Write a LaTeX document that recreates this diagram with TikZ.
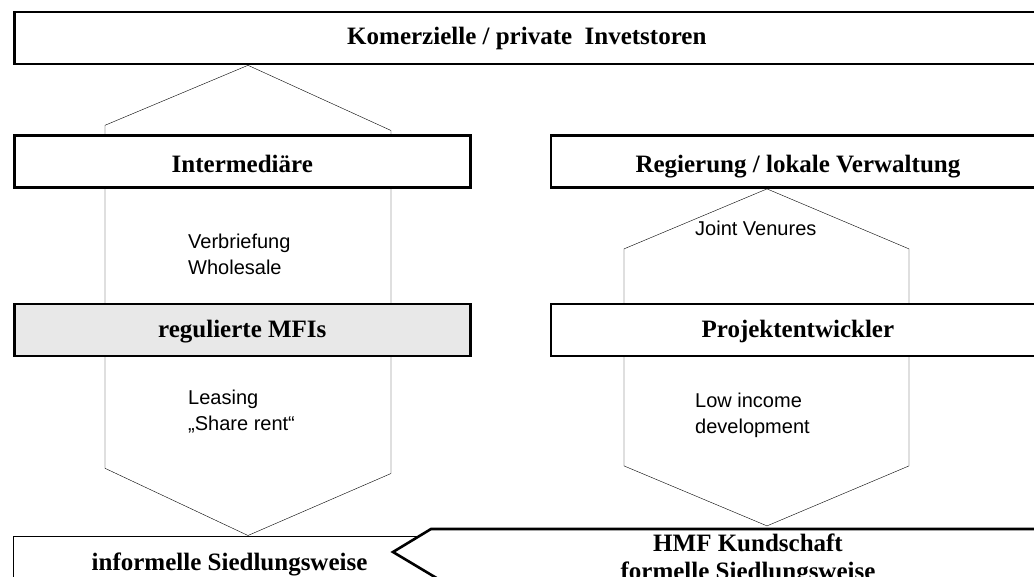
\documentclass[tikz,border=0pt]{standalone}
\usepackage{fontspec}
\setmainfont{Liberation Serif}
\newfontfamily\notefont{Liberation Sans}
\usetikzlibrary{positioning,backgrounds}

\begin{document}
\begin{tikzpicture}[x=1pt, y=-1pt,
				frame/.style={draw=black, line width=2.6pt, fill=white},
				bartext/.style={inner sep=0pt, font=\fontsize{25}{28}\selectfont\bfseries},
				bar/.style={frame, bartext, rectangle, minimum height=52pt, text height=17pt, text depth=3pt},
				tallrow/.style={text height=22pt, text depth=0pt},
				greybar/.style={bar, fill=black!9},
				flatbar/.style={bar, line width=1.1pt, text depth=7pt},
				note/.style={align=left, inner sep=0pt, font=\notefont\fontsize{20}{26}\selectfont},
				hexline/.style={draw=black, line width=0.9pt}
			]
			\useasboundingbox (0,0) rectangle (1034,577);
			\node[bar, anchor=west, minimum width=1025pt] (investoren) at (13,38) {Komerzielle / private\ \ Invetstoren};
			\node[bar, tallrow, minimum width=456pt] (intermed) [below right=69pt and 0pt of investoren.south west] {Intermediäre};
			\node[greybar, minimum width=456pt] (mfis) [below=114pt of intermed] {regulierte MFIs};
			\node[bar, tallrow, minimum width=494pt] (regierung) [right=78pt of intermed] {Regierung / lokale Verwaltung};
			\node[bar, minimum width=494pt] (projekt) [right=78pt of mfis] {Projektentwickler};
			\node[flatbar, minimum width=432pt, minimum height=58pt] (informell) [below right=178pt and 0pt of mfis.south west] {informelle Siedlungsweise};
			\coordinate (tip) at (393,552);
			\draw[frame] (tip) -- ++(38,-23) -- ++(620,0) -- ++(0,81) -- ++(-561,0) -- cycle;
			\node[bartext, align=center] (hmf) at (748,559) {HMF Kundschaft\\formelle Siedlungsweise};
			\node[note, anchor=base west] (verbriefung) at (188,275) {Verbriefung\\Wholesale};
			\node[note, anchor=base west] (leasing) at (188,430) {Leasing\\„Share rent“};
			\node[note, anchor=base west] (joint) at (695,236) {Joint Venures};
			\node[note, anchor=base west] (lowincome) at (695,433) {Low income\\development};
			\begin{scope}[on background layer, hexline]
			\coordinate (lhex) at (248,0);
			\coordinate (rhex) at (767,0);
			\draw (lhex |- investoren.south) -- ++(-143,60) -- ++(0,343) -- (lhex |- informell.north) -- ++(143,-62) -- ++(0,-343) -- cycle;
			\draw (rhex |- regierung.south) -- ++(-143,60) -- ++(0,217) -- ++(143,60) -- ++(142,-60) -- ++(0,-217) -- cycle;
			\end{scope}
			\end{tikzpicture}
\end{document}
